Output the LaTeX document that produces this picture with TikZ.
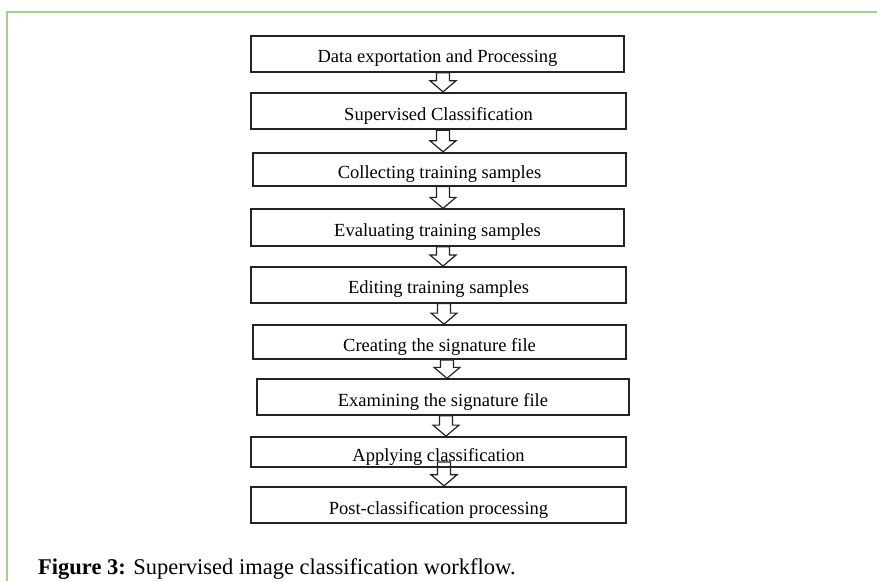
\documentclass[tikz,border=0pt]{standalone}
\usepackage{fontspec}
\setmainfont{Liberation Serif}
\usetikzlibrary{calc}

\definecolor{framegreen}{RGB}{162,206,142}
\definecolor{boxline}{RGB}{35,35,35}

\tikzset{
  stepbox/.style={draw=boxline, line width=1.8pt, rectangle, inner sep=0pt,
    fill=white, font=\fontsize{18.5}{18.5}\selectfont,
    text height=18pt, text depth=0pt},
  flowarrow/.style={draw=boxline, line width=1.2pt, line join=miter},
  captiontext/.style={anchor=base west, inner sep=0pt,
    font=\fontsize{22.5}{22.5}\selectfont},
}

% hollow block arrow from the bottom of #1 down to the top of #2,
% centred at x = #3, its shaft starting #4 above the bottom of #1
\newcommand{\hollowdown}[4]{%
  \draw[flowarrow] let \p1=(#1.south), \p2=(#2.north) in
    ({#3pt-6.5pt},{\y1+#4pt}) -- ({#3pt-6.5pt},{\y2+11pt})
    -- ({#3pt-13pt},{\y2+11pt}) -- ({#3pt},{\y2})
    -- ({#3pt+13pt},{\y2+11pt}) -- ({#3pt+6.5pt},{\y2+11pt})
    -- ({#3pt+6.5pt},{\y1+#4pt}) -- cycle;}

\begin{document}
\begin{tikzpicture}[x=1pt, y=-1pt]
  \useasboundingbox (0,0) rectangle (877,581);
  \fill[white] (0,0) rectangle (877,581);

  % frame of the figure panel
  \draw[framegreen, line width=2pt] (7,581) -- (7,12) -- (877,12);

  % workflow steps
  \node[stepbox, minimum width=373pt, minimum height=35.7pt] (s1) at (437.5,53.9) {Data exportation and Processing};
  \node[stepbox, minimum width=375pt, minimum height=36.6pt] (s2) at (438.5,111) {Supervised Classification};
  \node[stepbox, minimum width=373pt, minimum height=33pt] (s3) at (439.5,169.2) {Collecting training samples};
  \node[stepbox, minimum width=373pt, minimum height=36.7pt] (s4) at (437.5,227.6) {Evaluating training samples};
  \node[stepbox, minimum width=375pt, minimum height=35.7pt] (s5) at (438.5,284.8) {Editing training samples};
  \node[stepbox, minimum width=373pt, minimum height=34pt] (s6) at (439.5,342) {Creating the signature file};
  \node[stepbox, minimum width=372pt, minimum height=35.7pt] (s7) at (443,397.1) {Examining the signature file};
  \node[stepbox, minimum width=375pt, minimum height=30pt] (s8) at (438.5,452) {Applying classification};
  \node[stepbox, minimum width=375pt, minimum height=36.6pt] (s9) at (438.5,505) {Post-classification processing};

  % arrows between the steps
  \hollowdown{s1}{s2}{443}{0}
  \hollowdown{s2}{s3}{443}{0}
  \hollowdown{s3}{s4}{443}{0}
  \hollowdown{s4}{s5}{443}{0}
  \hollowdown{s5}{s6}{444}{0}
  \hollowdown{s6}{s7}{447}{0}
  \hollowdown{s7}{s8}{446}{0}
  \hollowdown{s8}{s9}{444}{6}

  % caption
  \node[captiontext] (cap) at (38,574) {\textbf{Figure 3:} Supervised image classification workflow.};
\end{tikzpicture}
\end{document}
